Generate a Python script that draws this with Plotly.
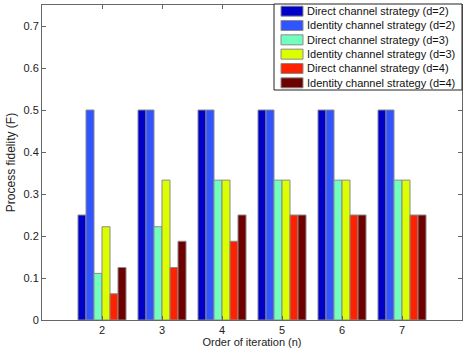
import plotly.graph_objects as go

# Data
orders = [2, 3, 4, 5, 6, 7]
series_names = [
    "Direct channel strategy (d=2)",
    "Identity channel strategy (d=2)",
    "Direct channel strategy (d=3)",
    "Identity channel strategy (d=3)",
    "Direct channel strategy (d=4)",
    "Identity channel strategy (d=4)",
]
direct_d2 = [0.25, 0.5, 0.5, 0.5, 0.5, 0.5]
identity_d2 = [0.5, 0.5, 0.5, 0.5, 0.5, 0.5]
direct_d3 = [0.111, 0.222, 0.333, 0.333, 0.333, 0.333]
identity_d3 = [0.222, 0.333, 0.333, 0.333, 0.333, 0.333]
direct_d4 = [0.0625, 0.125, 0.1875, 0.25, 0.25, 0.25]
identity_d4 = [0.125, 0.1875, 0.25, 0.25, 0.25, 0.25]
y_ticks = [0, 0.1, 0.2, 0.3, 0.4, 0.5, 0.6, 0.7]

colors = ["#0000c8", "#3054ff", "#72ffbe", "#dcff00", "#ff2200", "#6e0000"]
values = [direct_d2, identity_d2, direct_d3, identity_d3, direct_d4, identity_d4]

W, H = 469, 357
L, R, T, B = 42, 7, 5, 37
pw, ph = W - L - R, H - T - B

fig = go.Figure()
for name, vals, col in zip(series_names, values, colors):
    fig.add_trace(go.Bar(
        x=orders, y=vals, name=name, marker_color=col,
        marker_line=dict(color="#8a8a8a", width=1), showlegend=False,
    ))

# legend box drawn by hand (matlab-style wide swatches, tight rows)
def px(x):
    return (x - L) / pw

def py(y):
    return (H - B - y) / ph

box_l, box_r, box_t, box_b = 274, 462, 4, 90
shapes = [dict(type="rect", xref="paper", yref="paper", x0=px(box_l), x1=px(box_r),
               y0=py(box_b), y1=py(box_t), fillcolor="white",
               line=dict(color="#222222", width=1), layer="above")]
annotations = []
row_h = (box_b - box_t) / len(series_names)
for i, (name, col) in enumerate(zip(series_names, colors)):
    yc = box_t + row_h * (i + 0.5)
    shapes.append(dict(type="rect", xref="paper", yref="paper", x0=px(281), x1=px(303),
                       y0=py(yc + 5), y1=py(yc - 5), fillcolor=col,
                       line=dict(color="#8a8a8a", width=1), layer="above"))
    annotations.append(dict(text=name, xref="paper", yref="paper", x=px(305), y=py(yc),
                            xanchor="left", yanchor="middle", showarrow=False,
                            font=dict(size=11, color="#111111")))

axis_style = dict(
    showline=True, linecolor="#666666", linewidth=1, mirror="ticks",
    ticks="inside", ticklen=4, tickcolor="#666666", showgrid=False,
    zeroline=False, tickfont=dict(size=11, color="#222222"), automargin=False,
)
fig.update_xaxes(range=[1, 8], tickvals=orders, **axis_style,
                 title=dict(text="Order of iteration (n)", font=dict(size=11, color="#222222"),
                            standoff=0))
fig.update_yaxes(range=[0, 0.75], tickvals=y_ticks, **axis_style,
                 title=dict(text="Process fidelity (F)", font=dict(size=12, color="#222222"),
                            standoff=5))

fig.update_layout(
    width=W, height=H,
    margin=dict(l=L, r=R, t=T, b=B),
    barmode="group", bargap=0.2, bargroupgap=0,
    plot_bgcolor="white", paper_bgcolor="white",
    font=dict(family="Liberation Sans, Arial, sans-serif", size=11, color="#222222"),
    shapes=shapes, annotations=annotations,
)

# page body has a default 8px margin; drop it so the figure sits at the window corner
fig.write_html("out.html", config={"displayModeBar": False},
               post_script="document.body.style.margin='0';")
